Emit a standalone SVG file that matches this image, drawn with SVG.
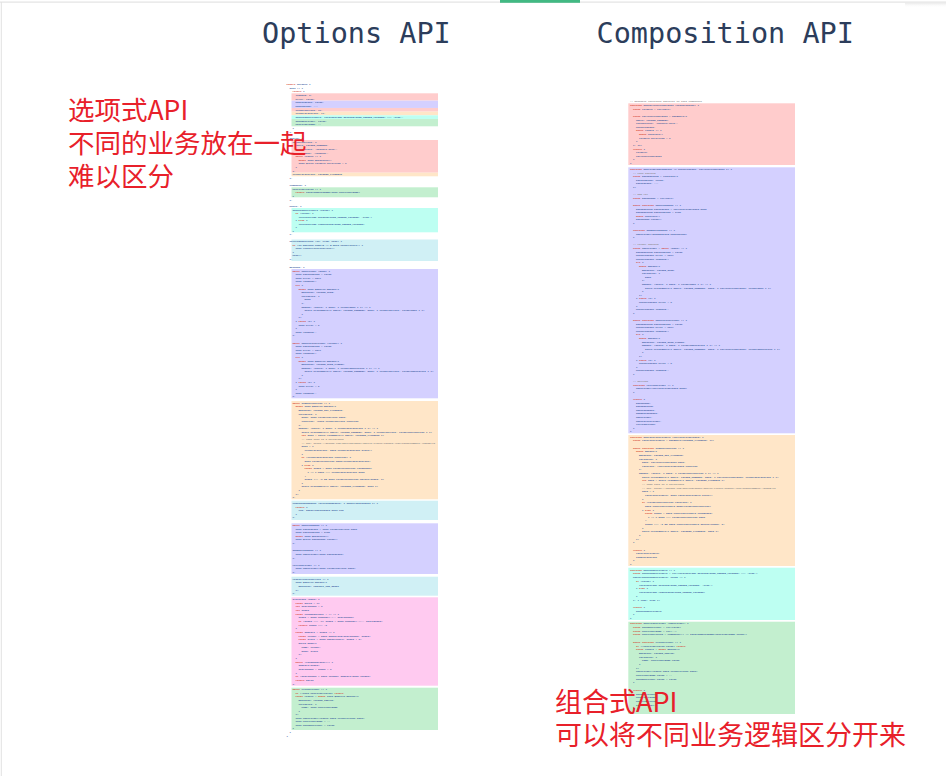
<svg xmlns="http://www.w3.org/2000/svg" width="946" height="776" viewBox="0 0 946 776">
<style>
.c{font-family:"Liberation Mono","DejaVu Sans Mono",monospace;font-size:2.5px;font-weight:bold;fill:#33579a}
.k{fill:#d23a2a}
.m{fill:#8a8a8a}
.title{font-family:"DejaVu Sans Mono","Liberation Mono",monospace;font-size:28.5px;fill:#2c3d5b}
.note{font-family:"Noto Sans CJK SC","Noto Sans",sans-serif;fill:#e8202a}
.red{fill:#ffcccc}.pur{fill:#d4d0ff}.org{fill:#ffe6c8}.cya{fill:#bdfff2}.lcy{fill:#d0f0f5}.grn{fill:#c3efcf}.pnk{fill:#ffcaf0}
</style>
<defs>
<linearGradient id="sh" x1="0" y1="0" x2="0" y2="1"><stop offset="0" stop-color="#e8e8e8"/><stop offset="1" stop-color="#ffffff" stop-opacity="0"/></linearGradient>
</defs>
<rect width="946" height="776" fill="#ffffff"/>
<g id="chrome">
<rect x="0" y="1.5" width="946" height="1.2" fill="#e3e3e3"/>
<rect x="500" y="0" width="80" height="2.8" fill="#42b983"/>
<rect x="905" y="2.7" width="41" height="5" fill="url(#sh)"/>
<rect x="0.8" y="2" width="1" height="774" fill="#e2e2e2"/>
</g>
<g id="titles">
<text class="title" x="262" y="43.3">Options API</text>
<text class="title" x="596.5" y="43.3">Composition API</text>
</g>

<g id="options-api">
<rect class="red" x="291.5" y="93.3" width="146.5" height="7.33"/>
<rect class="pur" x="291.5" y="100.63" width="146.5" height="7.34"/>
<rect class="red" x="291.5" y="107.97" width="146.5" height="3.66"/>
<rect class="org" x="291.5" y="111.63" width="146.5" height="3.67"/>
<rect class="cya" x="291.5" y="115.3" width="146.5" height="3.67"/>
<rect class="grn" x="291.5" y="118.97" width="146.5" height="7.33"/>
<rect class="red" x="291.5" y="140" width="146.5" height="32.7"/>
<rect class="org" x="291.5" y="172.7" width="146.5" height="3.6"/>
<rect class="grn" x="291.5" y="187.3" width="146.5" height="10"/>
<rect class="cya" x="291.5" y="208" width="146.5" height="24.3"/>
<rect class="lcy" x="291.5" y="239.5" width="146.5" height="21.5"/>
<rect class="pur" x="291.5" y="269" width="146.5" height="129.3"/>
<rect class="org" x="291.5" y="401" width="146.5" height="98.3"/>
<rect class="lcy" x="291.5" y="500.7" width="146.5" height="19.3"/>
<rect class="pur" x="291.5" y="523.3" width="146.5" height="50.7"/>
<rect class="lcy" x="291.5" y="576.7" width="146.5" height="19"/>
<rect class="pnk" x="291.5" y="597.3" width="146.5" height="88.4"/>
<rect class="grn" x="291.5" y="687.7" width="146.5" height="42.3"/>

<text class="c"><tspan x="286.5" y="85.2"><tspan class="k">export</tspan> default {</tspan><tspan x="289.5" y="88.8">data () {</tspan><tspan x="292.5" y="92.4"><tspan class="k">return</tspan> {</tspan></text>
<text class="c"><tspan x="295.5" y="96.05">loading: 0,</tspan><tspan x="295.5" dy="3.667">error: false,</tspan><tspan x="295.5" dy="3.667">editingPath: false,</tspan><tspan x="295.5" dy="3.667">editedPath: '',</tspan><tspan x="295.5" dy="3.667">folderCurrent: {},</tspan><tspan x="295.5" dy="3.667">foldersFavorite: [],</tspan><tspan x="295.5" dy="3.667">showHiddenFolders: localStorage.getItem(SHOW_HIDDEN_FOLDERS) === 'true',</tspan><tspan x="295.5" dy="3.667">showNewFolder: false,</tspan><tspan x="295.5" dy="3.667">newFolderName: ''</tspan></text>
<text class="c"><tspan x="292.5" y="129">}</tspan><tspan x="289.5" y="132.7">},</tspan><tspan x="289.5" y="139">apollo: {</tspan></text>
<text class="c"><tspan x="292.5" y="142.7">folderCurrent: {</tspan><tspan x="295.5" dy="3.63">query: FOLDER_CURRENT,</tspan><tspan x="295.5" dy="3.63">fetchPolicy: 'network-only',</tspan><tspan x="295.5" dy="3.63">loadingKey: 'loading',</tspan><tspan x="295.5" dy="3.63"><tspan class="k">async</tspan> result () {</tspan><tspan x="298.5" dy="3.63"><tspan class="k">await</tspan> this.$nextTick()</tspan><tspan x="298.5" dy="3.63">this.$refs.folders.scrollTop = 0</tspan><tspan x="295.5" dy="3.63">}</tspan><tspan x="292.5" dy="3.63">},</tspan><tspan x="292.5" dy="3.63">foldersFavorite: FOLDERS_FAVORITE</tspan></text>
<text class="c"><tspan x="289.5" y="179.1">},</tspan><tspan x="289.5" y="185.5">computed: {</tspan></text>
<text class="c"><tspan x="292.5" y="189.9">newFolderValid () {</tspan><tspan x="295.5" dy="3.4"><tspan class="k">return</tspan> isValidMultiName(this.newFolderName)</tspan><tspan x="292.5" dy="3.4">}</tspan></text>
<text class="c"><tspan x="289.5" y="200.7">},</tspan><tspan x="289.5" y="207">watch: {</tspan></text>
<text class="c"><tspan x="292.5" y="210.6">showHiddenFolders (value) {</tspan><tspan x="295.5" dy="3.5"><tspan class="k">if</tspan> (value) {</tspan><tspan x="298.5" dy="3.5">localStorage.setItem(SHOW_HIDDEN_FOLDERS, 'true')</tspan><tspan x="295.5" dy="3.5">} <tspan class="k">else</tspan> {</tspan><tspan x="298.5" dy="3.5">localStorage.removeItem(SHOW_HIDDEN_FOLDERS)</tspan><tspan x="295.5" dy="3.5">}</tspan><tspan x="292.5" dy="3.5">}</tspan></text>
<text class="c"><tspan x="289.5" y="235.3">},</tspan></text>
<text class="c"><tspan x="289.5" y="242.2">beforeRouteLeave (to, from, next) {</tspan><tspan x="292.5" dy="3.55"><tspan class="k">if</tspan> (to.matched.some(m =&gt; m.meta.needProject)) {</tspan><tspan x="295.5" dy="3.55">this.resetProjectCurrent()</tspan><tspan x="292.5" dy="3.55">}</tspan><tspan x="292.5" dy="3.55">next()</tspan><tspan x="289.5" dy="3.55">},</tspan></text>
<text class="c"><tspan x="289.5" y="268">methods: {</tspan></text>
<text class="c"><tspan x="292.5" y="271.7"><tspan class="k">async</tspan> openFolder (path) {</tspan><tspan x="295.5" dy="3.592">this.editingPath = false</tspan><tspan x="295.5" dy="3.592">this.error = null</tspan><tspan x="295.5" dy="3.592">this.loading++</tspan><tspan x="295.5" dy="3.592"><tspan class="k">try</tspan> {</tspan><tspan x="298.5" dy="3.592"><tspan class="k">await</tspan> this.$apollo.mutate({</tspan><tspan x="301.5" dy="3.592">mutation: FOLDER_OPEN,</tspan><tspan x="301.5" dy="3.592">variables: {</tspan><tspan x="304.5" dy="3.592">path</tspan><tspan x="301.5" dy="3.592">},</tspan><tspan x="301.5" dy="3.592">update: (store, { data: { folderOpen } }) =&gt; {</tspan><tspan x="304.5" dy="3.592">store.writeQuery({ query: FOLDER_CURRENT, data: { folderCurrent: folderOpen } })</tspan><tspan x="301.5" dy="3.592">}</tspan><tspan x="298.5" dy="3.592">})</tspan><tspan x="295.5" dy="3.592">} <tspan class="k">catch</tspan> (e) {</tspan><tspan x="298.5" dy="3.592">this.error = e</tspan><tspan x="295.5" dy="3.592">}</tspan><tspan x="295.5" dy="3.592">this.loading--</tspan><tspan x="292.5" dy="3.592">},</tspan><tspan x="292.5" dy="7.184"><tspan class="k">async</tspan> openParentFolder (folder) {</tspan><tspan x="295.5" dy="3.592">this.editingPath = false</tspan><tspan x="295.5" dy="3.592">this.error = null</tspan><tspan x="295.5" dy="3.592">this.loading++</tspan><tspan x="295.5" dy="3.592"><tspan class="k">try</tspan> {</tspan><tspan x="298.5" dy="3.592"><tspan class="k">await</tspan> this.$apollo.mutate({</tspan><tspan x="301.5" dy="3.592">mutation: FOLDER_OPEN_PARENT,</tspan><tspan x="301.5" dy="3.592">update: (store, { data: { folderOpenParent } }) =&gt; {</tspan><tspan x="304.5" dy="3.592">store.writeQuery({ query: FOLDER_CURRENT, data: { folderCurrent: folderOpenParent } })</tspan><tspan x="301.5" dy="3.592">}</tspan><tspan x="298.5" dy="3.592">})</tspan><tspan x="295.5" dy="3.592">} <tspan class="k">catch</tspan> (e) {</tspan><tspan x="298.5" dy="3.592">this.error = e</tspan><tspan x="295.5" dy="3.592">}</tspan><tspan x="295.5" dy="3.592">this.loading--</tspan><tspan x="292.5" dy="3.592">},</tspan></text>
<text class="c"><tspan x="292.5" y="403.7"><tspan class="k">async</tspan> toggleFavorite () {</tspan><tspan x="295.5" dy="3.64"><tspan class="k">await</tspan> this.$apollo.mutate({</tspan><tspan x="298.5" dy="3.64">mutation: FOLDER_SET_FAVORITE,</tspan><tspan x="298.5" dy="3.64">variables: {</tspan><tspan x="301.5" dy="3.64">path: this.folderCurrent.path,</tspan><tspan x="301.5" dy="3.64">favorite: !this.folderCurrent.favorite</tspan><tspan x="298.5" dy="3.64">},</tspan><tspan x="298.5" dy="3.64">update: (store, { data: { folderSetFavorite } }) =&gt; {</tspan><tspan x="301.5" dy="3.64">store.writeQuery({ query: FOLDER_CURRENT, data: { folderCurrent: folderSetFavorite } })</tspan><tspan x="301.5" dy="3.64"><tspan class="k">let</tspan> data = store.readQuery({ query: FOLDERS_FAVORITE })</tspan><tspan x="301.5" dy="3.64" class="m">// TODO this is a workaround</tspan><tspan x="301.5" dy="3.64" class="m">// See: https://github.com/apollographql/apollo-client/issues/4031#issuecomment-433668473</tspan><tspan x="301.5" dy="3.64">data = {</tspan><tspan x="304.5" dy="3.64">foldersFavorite: data.foldersFavorite.slice()</tspan><tspan x="301.5" dy="3.64">}</tspan><tspan x="301.5" dy="3.64"><tspan class="k">if</tspan> (folderSetFavorite.favorite) {</tspan><tspan x="304.5" dy="3.64">data.foldersFavorite.push(folderSetFavorite)</tspan><tspan x="301.5" dy="3.64">} <tspan class="k">else</tspan> {</tspan><tspan x="304.5" dy="3.64"><tspan class="k">const</tspan> index = data.foldersFavorite.findIndex(</tspan><tspan x="307.5" dy="3.64">f =&gt; f.path === folderSetFavorite.path</tspan><tspan x="304.5" dy="3.64">)</tspan><tspan x="304.5" dy="3.64">index !== -1 &amp;&amp; data.foldersFavorite.splice(index, 1)</tspan><tspan x="301.5" dy="3.64">}</tspan><tspan x="301.5" dy="3.64">store.writeQuery({ query: FOLDERS_FAVORITE, data })</tspan><tspan x="298.5" dy="3.64">}</tspan><tspan x="295.5" dy="3.64">})</tspan><tspan x="292.5" dy="3.64">},</tspan></text>
<text class="c"><tspan x="292.5" y="504">cwdChangedUpdate (previousResult, { subscriptionData }) {</tspan><tspan x="295.5" dy="3.6"><tspan class="k">return</tspan> {</tspan><tspan x="298.5" dy="3.6">cwd: subscriptionData.data.cwd</tspan><tspan x="295.5" dy="3.6">}</tspan><tspan x="292.5" dy="3.6">},</tspan></text>
<text class="c"><tspan x="292.5" y="526"><tspan class="k">async</tspan> openPathEdit () {</tspan><tspan x="295.5" dy="3.62">this.editedPath = this.folderCurrent.path</tspan><tspan x="295.5" dy="3.62">this.editingPath = true</tspan><tspan x="295.5" dy="3.62"><tspan class="k">await</tspan> this.$nextTick()</tspan><tspan x="295.5" dy="3.62">this.$refs.pathInput.focus()</tspan><tspan x="292.5" dy="3.62">},</tspan><tspan x="292.5" dy="7.24">submitPathEdit () {</tspan><tspan x="295.5" dy="3.62">this.openFolder(this.editedPath)</tspan><tspan x="292.5" dy="3.62">},</tspan><tspan x="292.5" dy="7.24">refreshFolder () {</tspan><tspan x="295.5" dy="3.62">this.openFolder(this.folderCurrent.path)</tspan><tspan x="292.5" dy="3.62">},</tspan></text>
<text class="c"><tspan x="292.5" y="579.8">resetProjectCurrent () {</tspan><tspan x="295.5" dy="3.6">this.$apollo.mutate({</tspan><tspan x="298.5" dy="3.6">mutation: PROJECT_CWD_RESET</tspan><tspan x="295.5" dy="3.6">})</tspan><tspan x="292.5" dy="3.6">},</tspan></text>
<text class="c"><tspan x="292.5" y="600">slicePath (path) {</tspan><tspan x="295.5" dy="3.68"><tspan class="k">const</tspan> parts = []</tspan><tspan x="295.5" dy="3.68"><tspan class="k">let</tspan> startIndex = 0</tspan><tspan x="295.5" dy="3.68"><tspan class="k">let</tspan> index</tspan><tspan x="295.5" dy="3.68"><tspan class="k">const</tspan> findSeparator = () =&gt; {</tspan><tspan x="298.5" dy="3.68">index = path.indexOf('/', startIndex)</tspan><tspan x="298.5" dy="3.68"><tspan class="k">if</tspan> (index === -1) index = path.indexOf('\\', startIndex)</tspan><tspan x="298.5" dy="3.68"><tspan class="k">return</tspan> index !== -1</tspan><tspan x="295.5" dy="3.68">}</tspan><tspan x="295.5" dy="3.68"><tspan class="k">const</tspan> addPart = index =&gt; {</tspan><tspan x="298.5" dy="3.68"><tspan class="k">const</tspan> folder = path.substring(startIndex, index)</tspan><tspan x="298.5" dy="3.68"><tspan class="k">const</tspan> slice = path.substring(0, index + 1)</tspan><tspan x="298.5" dy="3.68">parts.push({</tspan><tspan x="301.5" dy="3.68">name: folder,</tspan><tspan x="301.5" dy="3.68">path: slice</tspan><tspan x="298.5" dy="3.68">})</tspan><tspan x="295.5" dy="3.68">}</tspan><tspan x="295.5" dy="3.68"><tspan class="k">while</tspan> (findSeparator()) {</tspan><tspan x="298.5" dy="3.68">addPart(index)</tspan><tspan x="298.5" dy="3.68">startIndex = index + 1</tspan><tspan x="295.5" dy="3.68">}</tspan><tspan x="295.5" dy="3.68"><tspan class="k">if</tspan> (startIndex &lt; path.length) addPart(path.length)</tspan><tspan x="295.5" dy="3.68"><tspan class="k">return</tspan> parts</tspan><tspan x="292.5" dy="3.68">},</tspan></text>
<text class="c"><tspan x="292.5" y="690.4"><tspan class="k">async</tspan> createFolder () {</tspan><tspan x="295.5" dy="3.525"><tspan class="k">if</tspan> (!this.newFolderValid) <tspan class="k">return</tspan></tspan><tspan x="295.5" dy="3.525"><tspan class="k">const</tspan> result = <tspan class="k">await</tspan> this.$apollo.mutate({</tspan><tspan x="298.5" dy="3.525">mutation: FOLDER_CREATE,</tspan><tspan x="298.5" dy="3.525">variables: {</tspan><tspan x="301.5" dy="3.525">name: this.newFolderName</tspan><tspan x="298.5" dy="3.525">}</tspan><tspan x="295.5" dy="3.525">})</tspan><tspan x="295.5" dy="3.525">this.openFolder(result.data.folderCreate.path)</tspan><tspan x="295.5" dy="3.525">this.newFolderName = ''</tspan><tspan x="295.5" dy="3.525">this.showNewFolder = false</tspan><tspan x="292.5" dy="3.525">}</tspan></text>
<text class="c"><tspan x="289.5" y="733.3">}</tspan><tspan x="286.5" y="737">}</tspan></text>
</g>

<g id="composition-api">
<rect class="red" x="628.3" y="103.3" width="166.7" height="61.7"/>
<rect class="pur" x="628.3" y="167.3" width="166.7" height="266"/>
<rect class="org" x="628.3" y="435" width="166.7" height="131"/>
<rect class="cya" x="628.3" y="567.7" width="166.7" height="52.3"/>
<rect class="grn" x="628.3" y="621.7" width="166.7" height="92.3"/>

<text class="c"><tspan x="630" y="102.4" class="m">// Reusable functions specific to this component</tspan></text>
<text class="c"><tspan x="630" y="106"><tspan class="k">function</tspan> useCurrentFolderData (networkState) {</tspan><tspan x="633" dy="3.63"><tspan class="k">const</tspan> folders = ref(null)</tspan><tspan x="633" dy="7.26"><tspan class="k">const</tspan> currentFolderData = useQuery({</tspan><tspan x="636" dy="3.63">query: FOLDER_CURRENT,</tspan><tspan x="636" dy="3.63">fetchPolicy: 'network-only',</tspan><tspan x="636" dy="3.63">networkState,</tspan><tspan x="636" dy="3.63"><tspan class="k">async</tspan> result () {</tspan><tspan x="639" dy="3.63"><tspan class="k">await</tspan> nextTick()</tspan><tspan x="639" dy="3.63">folders.scrollTop = 0</tspan><tspan x="636" dy="3.63">}</tspan><tspan x="633" dy="3.63">}, {})</tspan><tspan x="633" dy="3.63"><tspan class="k">return</tspan> {</tspan><tspan x="636" dy="3.63">folders,</tspan><tspan x="636" dy="3.63">currentFolderData</tspan><tspan x="633" dy="3.63">}</tspan><tspan x="630" dy="3.63">}</tspan></text>
<text class="c"><tspan x="630" y="170"><tspan class="k">function</tspan> useFolderNavigation ({ networkState, currentFolderData }) {</tspan><tspan x="633" dy="3.595" class="m">// Path editing</tspan><tspan x="633" dy="3.595"><tspan class="k">const</tspan> pathEditing = reactive({</tspan><tspan x="636" dy="3.595">editingPath: false,</tspan><tspan x="636" dy="3.595">editedPath: '',</tspan><tspan x="633" dy="3.595">})</tspan><tspan x="633" dy="7.19" class="m">// DOM ref</tspan><tspan x="633" dy="3.595"><tspan class="k">const</tspan> pathInput = ref(null)</tspan><tspan x="633" dy="7.19"><tspan class="k">async function</tspan> openPathEdit () {</tspan><tspan x="636" dy="3.595">pathEditing.editedPath = currentFolderData.path</tspan><tspan x="636" dy="3.595">pathEditing.editingPath = true</tspan><tspan x="636" dy="3.595"><tspan class="k">await</tspan> nextTick()</tspan><tspan x="636" dy="3.595">pathInput.focus()</tspan><tspan x="633" dy="3.595">}</tspan><tspan x="633" dy="7.19"><tspan class="k">function</tspan> submitPathEdit () {</tspan><tspan x="636" dy="3.595">openFolder(pathEditing.editedPath)</tspan><tspan x="633" dy="3.595">}</tspan><tspan x="633" dy="7.19" class="m">// Folder opening</tspan><tspan x="633" dy="3.595"><tspan class="k">const</tspan> openFolder = <tspan class="k">async</tspan> (path) =&gt; {</tspan><tspan x="636" dy="3.595">pathEditing.editingPath = false</tspan><tspan x="636" dy="3.595">networkState.error = null</tspan><tspan x="636" dy="3.595">networkState.loading++</tspan><tspan x="636" dy="3.595"><tspan class="k">try</tspan> {</tspan><tspan x="639" dy="3.595"><tspan class="k">await</tspan> mutate({</tspan><tspan x="642" dy="3.595">mutation: FOLDER_OPEN,</tspan><tspan x="642" dy="3.595">variables: {</tspan><tspan x="645" dy="3.595">path</tspan><tspan x="642" dy="3.595">},</tspan><tspan x="642" dy="3.595">update: (store, { data: { folderOpen } }) =&gt; {</tspan><tspan x="645" dy="3.595">store.writeQuery({ query: FOLDER_CURRENT, data: { currentFolderData: folderOpen } })</tspan><tspan x="642" dy="3.595">}</tspan><tspan x="639" dy="3.595">})</tspan><tspan x="636" dy="3.595">} <tspan class="k">catch</tspan> (e) {</tspan><tspan x="639" dy="3.595">networkState.error = e</tspan><tspan x="636" dy="3.595">}</tspan><tspan x="636" dy="3.595">networkState.loading--</tspan><tspan x="633" dy="3.595">}</tspan><tspan x="633" dy="7.19"><tspan class="k">async function</tspan> openParentFolder () {</tspan><tspan x="636" dy="3.595">pathEditing.editingPath = false</tspan><tspan x="636" dy="3.595">networkState.error = null</tspan><tspan x="636" dy="3.595">networkState.loading++</tspan><tspan x="636" dy="3.595"><tspan class="k">try</tspan> {</tspan><tspan x="639" dy="3.595"><tspan class="k">await</tspan> mutate({</tspan><tspan x="642" dy="3.595">mutation: FOLDER_OPEN_PARENT,</tspan><tspan x="642" dy="3.595">update: (store, { data: { folderOpenParent } }) =&gt; {</tspan><tspan x="645" dy="3.595">store.writeQuery({ query: FOLDER_CURRENT, data: { currentFolderData: folderOpenParent } })</tspan><tspan x="642" dy="3.595">}</tspan><tspan x="639" dy="3.595">})</tspan><tspan x="636" dy="3.595">} <tspan class="k">catch</tspan> (e) {</tspan><tspan x="639" dy="3.595">networkState.error = e</tspan><tspan x="636" dy="3.595">}</tspan><tspan x="636" dy="3.595">networkState.loading--</tspan><tspan x="633" dy="3.595">}</tspan><tspan x="633" dy="7.19" class="m">// Refresh</tspan><tspan x="633" dy="3.595"><tspan class="k">function</tspan> refreshFolder () {</tspan><tspan x="636" dy="3.595">openFolder(currentFolderData.path)</tspan><tspan x="633" dy="3.595">}</tspan><tspan x="633" dy="7.19"><tspan class="k">return</tspan> {</tspan><tspan x="636" dy="3.595">pathInput,</tspan><tspan x="636" dy="3.595">pathEditing,</tspan><tspan x="636" dy="3.595">openPathEdit,</tspan><tspan x="636" dy="3.595">submitPathEdit,</tspan><tspan x="636" dy="3.595">openFolder,</tspan><tspan x="636" dy="3.595">openParentFolder,</tspan><tspan x="636" dy="3.595">refreshFolder</tspan><tspan x="633" dy="3.595">}</tspan><tspan x="630" dy="3.595">}</tspan></text>
<text class="c"><tspan x="630" y="437.7"><tspan class="k">function</tspan> useFavoriteFolders (currentFolderData) {</tspan><tspan x="633" dy="3.64"><tspan class="k">const</tspan> favoriteFolders = useQuery(FOLDERS_FAVORITE, [])</tspan><tspan x="633" dy="7.28"><tspan class="k">async function</tspan> toggleFavorite () {</tspan><tspan x="636" dy="3.64"><tspan class="k">await</tspan> mutate({</tspan><tspan x="639" dy="3.64">mutation: FOLDER_SET_FAVORITE,</tspan><tspan x="639" dy="3.64">variables: {</tspan><tspan x="642" dy="3.64">path: currentFolderData.path,</tspan><tspan x="642" dy="3.64">favorite: !currentFolderData.favorite</tspan><tspan x="639" dy="3.64">},</tspan><tspan x="639" dy="3.64">update: (store, { data: { folderSetFavorite } }) =&gt; {</tspan><tspan x="642" dy="3.64">store.writeQuery({ query: FOLDER_CURRENT, data: { currentFolderData: folderSetFavorite } })</tspan><tspan x="642" dy="3.64"><tspan class="k">let</tspan> data = store.readQuery({ query: FOLDERS_FAVORITE })</tspan><tspan x="642" dy="3.64" class="m">// TODO this is a workaround</tspan><tspan x="642" dy="3.64" class="m">// See: https://github.com/apollographql/apollo-client/issues/4031#issuecomment-433668473</tspan><tspan x="642" dy="3.64">data = {</tspan><tspan x="645" dy="3.64">favoriteFolders: data.favoriteFolders.slice()</tspan><tspan x="642" dy="3.64">}</tspan><tspan x="642" dy="3.64"><tspan class="k">if</tspan> (folderSetFavorite.favorite) {</tspan><tspan x="645" dy="3.64">data.favoriteFolders.push(folderSetFavorite)</tspan><tspan x="642" dy="3.64">} <tspan class="k">else</tspan> {</tspan><tspan x="645" dy="3.64"><tspan class="k">const</tspan> index = data.favoriteFolders.findIndex(</tspan><tspan x="648" dy="3.64">f =&gt; f.path === folderSetFavorite.path</tspan><tspan x="645" dy="3.64">)</tspan><tspan x="645" dy="3.64">index !== -1 &amp;&amp; data.favoriteFolders.splice(index, 1)</tspan><tspan x="642" dy="3.64">}</tspan><tspan x="642" dy="3.64">store.writeQuery({ query: FOLDERS_FAVORITE, data })</tspan><tspan x="639" dy="3.64">}</tspan><tspan x="636" dy="3.64">})</tspan><tspan x="633" dy="3.64">}</tspan><tspan x="633" dy="7.28"><tspan class="k">return</tspan> {</tspan><tspan x="636" dy="3.64">favoriteFolders,</tspan><tspan x="636" dy="3.64">toggleFavorite</tspan><tspan x="633" dy="3.64">}</tspan><tspan x="630" dy="3.64">}</tspan></text>
<text class="c"><tspan x="630" y="570.6"><tspan class="k">function</tspan> useHiddenFolders () {</tspan><tspan x="633" dy="3.74"><tspan class="k">const</tspan> showHiddenFolders = ref(localStorage.getItem(SHOW_HIDDEN_FOLDERS) === 'true')</tspan><tspan x="633" dy="3.74">watch(showHiddenFolders, value =&gt; {</tspan><tspan x="636" dy="3.74"><tspan class="k">if</tspan> (value) {</tspan><tspan x="639" dy="3.74">localStorage.setItem(SHOW_HIDDEN_FOLDERS, 'true')</tspan><tspan x="636" dy="3.74">} <tspan class="k">else</tspan> {</tspan><tspan x="639" dy="3.74">localStorage.removeItem(SHOW_HIDDEN_FOLDERS)</tspan><tspan x="636" dy="3.74">}</tspan><tspan x="633" dy="3.74">}, { lazy: true })</tspan><tspan x="633" dy="7.48"><tspan class="k">return</tspan> {</tspan><tspan x="636" dy="3.74">showHiddenFolders</tspan><tspan x="633" dy="3.74">}</tspan><tspan x="630" dy="3.74">}</tspan></text>
<text class="c"><tspan x="630" y="624.4"><tspan class="k">function</tspan> useCreateFolder (openFolder) {</tspan><tspan x="633" dy="3.69"><tspan class="k">const</tspan> showNewFolder = ref(false)</tspan><tspan x="633" dy="3.69"><tspan class="k">const</tspan> newFolderName = ref('')</tspan><tspan x="633" dy="3.69"><tspan class="k">const</tspan> newFolderValid = computed(() =&gt; isValidMultiName(newFolderName.value))</tspan><tspan x="633" dy="7.38"><tspan class="k">async function</tspan> createFolder () {</tspan><tspan x="636" dy="3.69"><tspan class="k">if</tspan> (!newFolderValid.value) <tspan class="k">return</tspan></tspan><tspan x="636" dy="3.69"><tspan class="k">const</tspan> result = <tspan class="k">await</tspan> mutate({</tspan><tspan x="639" dy="3.69">mutation: FOLDER_CREATE,</tspan><tspan x="639" dy="3.69">variables: {</tspan><tspan x="642" dy="3.69">name: newFolderName.value</tspan><tspan x="639" dy="3.69">}</tspan><tspan x="636" dy="3.69">})</tspan><tspan x="636" dy="3.69">openFolder(result.data.folderCreate.path)</tspan><tspan x="636" dy="3.69">newFolderName.value = ''</tspan><tspan x="636" dy="3.69">showNewFolder.value = false</tspan><tspan x="633" dy="3.69">}</tspan><tspan x="633" dy="7.38"><tspan class="k">return</tspan> {</tspan><tspan x="636" dy="3.69">showNewFolder,</tspan><tspan x="636" dy="3.69">newFolderName,</tspan><tspan x="636" dy="3.69">newFolderValid,</tspan><tspan x="636" dy="3.69">createFolder,</tspan><tspan x="633" dy="3.69">}</tspan><tspan x="630" dy="3.69">}</tspan></text>
</g>

<g id="notes">
<text class="note" font-size="26.5"><tspan x="68" y="120">选项式API</tspan><tspan x="68" y="153">不同的业务放在一起</tspan><tspan x="68" y="185.5">难以区分</tspan></text>
<text class="note" font-size="27"><tspan x="555" y="711.5">组合式API</tspan><tspan x="555" y="745">可以将不同业务逻辑区分开来</tspan></text>
</g>
</svg>
